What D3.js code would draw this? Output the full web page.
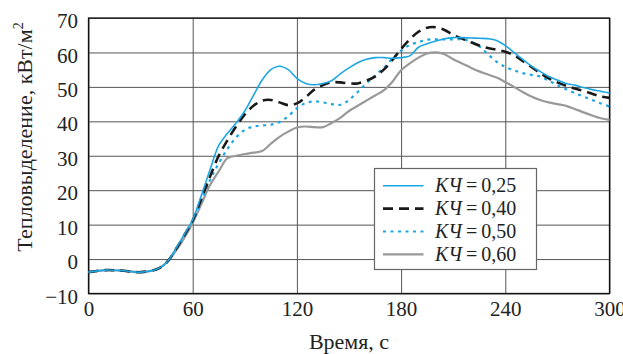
<!DOCTYPE html>
<html>
<head>
<meta charset="utf-8">
<script src="https://cdn.jsdelivr.net/npm/d3@7"></script>
<style>
  body { margin: 0; background: #fff; }
  svg { display: block; }
</style>
</head>
<body>
<svg id="chart" width="623" height="354"></svg>
<script>
// time, s
const time = [0, 10, 20, 30, 40, 45, 50, 55, 60, 65, 70, 75, 80, 85, 90, 95, 100, 105, 110, 115,
  120, 125, 130, 135, 140, 145, 150, 155, 160, 165, 170, 175, 180, 185, 190, 195, 200, 205, 210, 215,
  220, 225, 230, 235, 240, 245, 250, 255, 260, 265, 270, 275, 280, 285, 290, 295, 300]

// heat release, kW/m2
const kch025 = [-3.8, -3.2, -3.4, -3.8, -2.8, -1.0, 2.8, 7, 11.5, 18.5, 26, 33, 36.5, 39.5, 43, 47.5, 52, 55, 56, 55,
  52.5, 51, 50.6, 51, 51.8, 53.8, 55.5, 57, 58, 58.5, 58.5, 58.3, 58.5, 59, 61.5, 62.5, 63.3, 64, 64.3, 64.3,
  64.2, 64.1, 64, 63.5, 62, 60, 58, 56, 54.5, 53, 52, 51, 50.5, 49.8, 49.2, 48.7, 48.2]
const kch040 = [-3.8, -3.2, -3.4, -3.8, -2.8, -1.0, 2.6, 6.8, 11.2, 17.5, 24, 30, 34.5, 38.5, 42, 44.5, 46, 46.2, 45.5, 44.7,
  45.2, 47, 49.2, 50.5, 51.3, 51.3, 51, 51, 51.8, 53, 55, 57.8, 61, 63.8, 66, 67.2, 67.3, 66.5, 65.1, 64,
  63, 62, 61.3, 60.8, 60.2, 59.2, 57.5, 55.8, 54, 52.5, 51.3, 50.3, 49.5, 48.8, 48, 47.2, 46.8]
const kch050 = [-3.8, -3.2, -3.4, -3.8, -2.8, -1.0, 2.5, 6.5, 11, 17, 23, 27.8, 32, 35.3, 37.5, 38.5, 38.8, 39, 39.8, 41.5,
  43.8, 45.3, 45.8, 45.5, 45, 44.8, 46.2, 48.5, 51, 53.3, 55.5, 58.2, 60.5, 62.2, 63, 63.7, 63.8, 63.8, 63.8, 63.8,
  63.2, 61.8, 59.5, 57.3, 55.8, 54.8, 54, 53.5, 53, 51.8, 50.5, 49.3, 48.2, 47.2, 46.2, 45.2, 44.3]
const kch060 = [-3.8, -3.2, -3.4, -3.8, -2.8, -1.0, 2.2, 6, 10.5, 16, 21.5, 25.5, 29.3, 30, 30.5, 30.9, 31.4, 33.5, 35.5, 37,
  38.2, 38.5, 38.3, 38.3, 39.5, 41, 43, 44.5, 46, 47.5, 49, 51.5, 54.8, 56.8, 58.5, 59.7, 60, 59.5, 58, 56.8,
  55.6, 54.5, 53.6, 52.7, 51.4, 50, 48.5, 47.2, 46.2, 45.5, 45, 44.5, 43.6, 42.6, 41.7, 40.9, 40.4]

const xTicks = [0, 60, 120, 180, 240, 300]
const yTicks = [-10, 0, 10, 20, 30, 40, 50, 60, 70]
const seriesNames = ['0,25', '0,40', '0,50', '0,60']

const styles = [
  {color: '#1ea6e3', width: 1.6, dash: null},
  {color: '#1a1a1a', width: 2.6, dash: '10,6'},
  {color: '#1ea6e3', width: 2.2, dash: '3,4.5'},
  {color: '#999999', width: 2.2, dash: null}
]

const serif = '"Liberation Serif"'
const svg = d3.select('#chart').style('font-family', serif)
const plotLeft = 88.5, plotRight = 609.5, plotTop = 18, plotBottom = 293.5

const x = d3.scaleLinear().domain([0, 300]).range([plotLeft, plotRight])
const y = d3.scaleLinear().domain([-10, 70]).range([plotBottom, plotTop])

// grid + tick labels
svg.append('g')
  .attr('transform', `translate(0,${plotBottom})`)
  .call(d3.axisBottom(x).tickValues(xTicks).tickSizeInner(-(plotBottom - plotTop)).tickSizeOuter(0).tickPadding(8))
  .style('font-family', serif)
  .call(g => g.select('.domain').remove())
  .call(g => g.selectAll('line').attr('stroke', '#555'))
  .call(g => g.selectAll('text').style('font-family', serif).attr('font-size', 21).attr('fill', '#222'))

svg.append('g')
  .attr('transform', `translate(${plotLeft},0)`)
  .call(d3.axisLeft(y).tickValues(yTicks).tickSizeInner(-(plotRight - plotLeft)).tickSizeOuter(0).tickPadding(10.5)
    .tickFormat(d => d < 0 ? '\u2212' + Math.abs(d) : d))
  .style('font-family', serif)
  .call(g => g.select('.domain').remove())
  .call(g => g.selectAll('line').attr('stroke', '#555'))
  .call(g => g.selectAll('text').style('font-family', serif).attr('font-size', 21).attr('fill', '#222').attr('dy', '0.46em'))

// frame
svg.append('rect')
  .attr('x', plotLeft).attr('y', plotTop)
  .attr('width', plotRight - plotLeft).attr('height', plotBottom - plotTop)
  .attr('fill', 'none').attr('stroke', '#111').attr('stroke-width', 1.3)

const allSeries = [kch025, kch040, kch050, kch060]

const line = d3.line()
  .x((d, i) => x(time[i]))
  .y(d => y(d))
  .curve(d3.curveCatmullRom.alpha(0.5))

svg.append('g')
  .selectAll('path')
  .data(allSeries.slice().reverse())
  .join('path')
  .attr('d', line)
  .attr('fill', 'none')
  .attr('stroke', (d, i) => styles[3 - i].color)
  .attr('stroke-width', (d, i) => styles[3 - i].width)
  .attr('stroke-dasharray', (d, i) => styles[3 - i].dash)

// legend
const legend = svg.append('g')
legend.append('rect')
  .attr('x', 374.5).attr('y', 168.5).attr('width', 162).attr('height', 101)
  .attr('fill', '#fff').attr('stroke', '#666').attr('stroke-width', 1.2)

const rows = legend.selectAll('g.row')
  .data(seriesNames)
  .join('g')
  .attr('class', 'row')
  .attr('transform', (d, i) => `translate(0,${185.7 + i * 22.9})`)

rows.append('line')
  .attr('x1', 383).attr('x2', 423.5)
  .attr('stroke', (d, i) => styles[i].color)
  .attr('stroke-width', (d, i) => styles[i].width)
  .attr('stroke-dasharray', (d, i) => styles[i].dash)

const lt = rows.append('text')
  .attr('x', 435).attr('y', 6.5)
  .style('font-family', serif)
  .attr('font-size', 20).attr('fill', '#222')
lt.append('tspan').attr('font-style', 'italic').text('КЧ')
lt.append('tspan').text(d => '\u2009=\u20090' + d.slice(1))

// axis titles
svg.append('text')
  .attr('x', (plotLeft + plotRight) / 2).attr('y', 349)
  .attr('text-anchor', 'middle')
  .style('font-family', serif)
  .attr('font-size', 22).attr('fill', '#222')
  .text('Время, с')

const yt = svg.append('text')
  .attr('transform', 'translate(32,137) rotate(-90)')
  .attr('text-anchor', 'middle')
  .style('font-family', serif)
  .attr('font-size', 22).attr('fill', '#222')
yt.append('tspan').text('Тепловыделение, кВт/м')
yt.append('tspan').attr('font-size', 14).attr('dy', -9).text('2')
</script>
</body>
</html>
